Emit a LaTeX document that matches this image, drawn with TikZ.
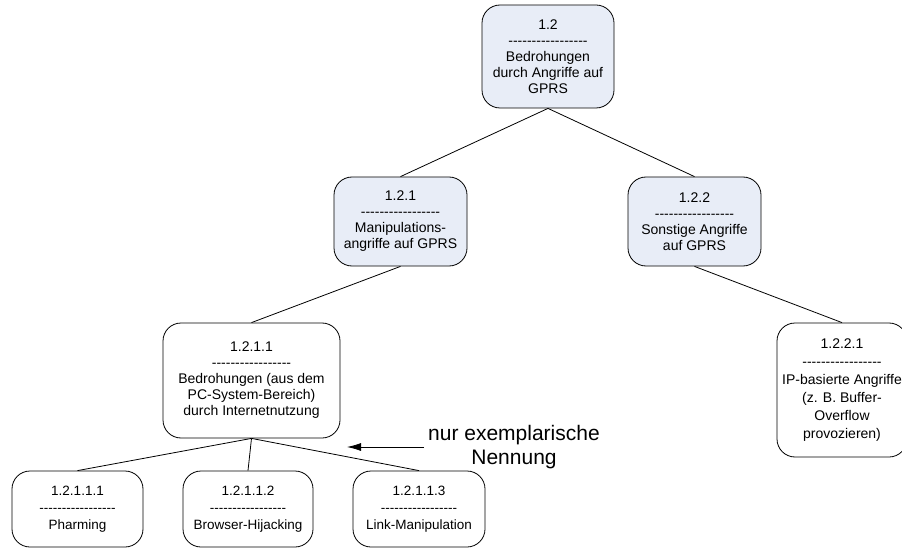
\documentclass[tikz,border=0pt]{standalone}
\usepackage{fontspec}
\setmainfont{Liberation Sans}[Ligatures=TeXOff]
\usetikzlibrary{shapes,arrows.meta}
\definecolor{boxblue}{RGB}{232,237,247}
\newcommand{\dashrow}{-----------------}
\tikzstyle{block} = [rectangle, draw, line width=0.8pt, rounded corners=18pt,
    align=center, inner sep=2pt, font=\fontsize{14}{16}\selectfont]
\tikzstyle{line} = [draw, line width=0.8pt]

\begin{document}
\begin{tikzpicture}[x=1pt, y=-1pt]
	\clip (0,0) rectangle (902,548);

		\node [block, fill=boxblue, minimum width=132pt, minimum height=103pt] (threat) at (548,56.5) {1.2\\\dashrow\\Bedrohungen\\durch Angriffe auf\\GPRS};
		
		\node [block, fill=boxblue, minimum width=133pt, minimum height=89pt] (manip) at (400.5,221.5) {1.2.1\\\dashrow\\Manipulations-\\angriffe auf GPRS};
		\node [block, fill=boxblue, minimum width=133pt, minimum height=89pt] (other) at (694.5,221.5) {1.2.2\\\dashrow\\Sonstige Angriffe\\auf GPRS};
		
		\node [block, minimum width=177pt, minimum height=115pt] (pcsys) at (251.5,380.5) {1.2.1.1\\\dashrow\\Bedrohungen (aus dem\\PC-System-Bereich)\\durch Internetnutzung};
		\node [block, minimum width=130pt, minimum height=134pt, font=\fontsize{14}{18}\selectfont] (ipbased) at (842,390) {1.2.2.1\\\dashrow\\IP-basierte Angriffe\\(z. B. Buffer-\\Overflow\\provozieren)};
		
		\node [block, minimum width=131pt, minimum height=76pt, font=\fontsize{13.5}{17}\selectfont] (pharm) at (77.5,509) {1.2.1.1.1\\\dashrow\\Pharming};
		\node [block, minimum width=130pt, minimum height=76pt, font=\fontsize{13.5}{17}\selectfont] (hijack) at (248,509) {1.2.1.1.2\\\dashrow\\Browser-Hijacking};
		\node [block, minimum width=132pt, minimum height=76pt, font=\fontsize{13.5}{17}\selectfont] (link) at (419,509) {1.2.1.1.3\\\dashrow\\Link-Manipulation};
		
		\node [align=center, inner sep=4pt, font=\fontsize{21}{24}\selectfont] (note) at (514,447) {nur exemplarische\\Nennung};
		\coordinate (tip) at (347,447);
		
		\path [line] (threat.south) -- (manip.north);
		\path [line] (threat.south) -- (other.north);
		\path [line] (manip.south) -- (pcsys.north);
		\path [line] (other.south) -- (ipbased.north);
		\path [line] (pcsys.south) -- (pharm.north);
		\path [line] (pcsys.south) -- (hijack.north);
		\path [line] (pcsys.south) -- (link.north);
		\path [line, -{Latex[length=14pt,width=8pt]}] (note.west) -- (tip);
	\end{tikzpicture}
\end{document}
